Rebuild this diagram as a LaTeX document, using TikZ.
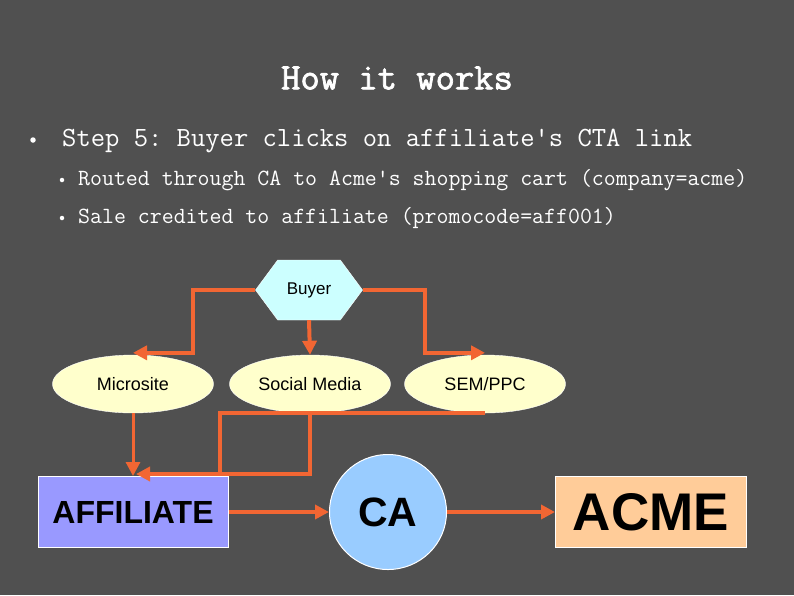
\documentclass[tikz,border=0pt]{standalone}
\usepackage{fontspec}
\setmainfont{Liberation Sans}
\setmonofont{Latin Modern Mono}[AutoFakeBold=2]
\usetikzlibrary{shapes.geometric,shapes.symbols,arrows.meta}
\definecolor{slidebg}{RGB}{80,80,80}
\definecolor{flowc}{RGB}{242,102,51}
\definecolor{buyerc}{RGB}{204,255,255}
\definecolor{ovalc}{RGB}{255,255,204}
\definecolor{affc}{RGB}{153,153,255}
\definecolor{cac}{RGB}{153,204,255}
\definecolor{acmec}{RGB}{255,204,153}
\begin{document}
\begin{tikzpicture}[x=1pt, y=-1pt,
  oval/.style = {draw=white, fill=ovalc, ellipse, minimum width=161pt, minimum height=58pt, inner sep=0pt, font=\fontsize{18}{20}\selectfont},
  box/.style = {draw=white, line width=1pt, minimum width=190pt, minimum height=71pt, inner sep=0pt, font=\bfseries},
  flow/.style = {draw=flowc, line width=4pt, -{Triangle[length=14pt, width=14pt]}},
  bul/.style = {circle, fill=white, inner sep=0pt, minimum size=5.5pt}]
\useasboundingbox[fill=slidebg] (0,0) rectangle (794,595);
% heading and bullets
\node[text=white, font=\ttfamily\bfseries\fontsize{37.5}{40}\selectfont] (title) at (397,78) {How it works};
\node[bul] (b1) at (33,140) {};
\node[bul, minimum size=4.5pt] (b2) at (62,180) {};
\node[bul, minimum size=4.5pt] (b3) at (62,218) {};
\node[anchor=west, inner sep=0pt, text=white, font=\ttfamily\fontsize{27.8}{30}\selectfont] (t1) at (62,141) {Step 5: Buyer clicks on affiliate's CTA link};
\node[anchor=west, inner sep=0pt, text=white, font=\ttfamily\fontsize{23.2}{25}\selectfont] (t2) at (78,180) {Routed through CA to Acme's shopping cart (company=acme)};
\node[anchor=west, inner sep=0pt, text=white, font=\ttfamily\fontsize{23.2}{25}\selectfont] (t3) at (78,218) {Sale credited to affiliate (promocode=aff001)};
% diagram
\node[signal, signal to=east and west, signal pointer angle=107, draw=white, fill=buyerc, minimum width=107pt, minimum height=60pt, inner sep=0pt, font=\fontsize{17}{19}\selectfont] (buyer) at (309,290) {Buyer};
\node[oval] (micro) at (133,384) {Microsite};
\node[oval] (social) at (310,384) {Social Media};
\node[oval] (sem) at (485,384) {SEM/PPC};
\node[box, fill=affc, font=\bfseries\fontsize{32}{34}\selectfont] (aff) at (133,512) {AFFILIATE};
\node[ellipse, draw=white, line width=1pt, fill=cac, minimum width=117pt, minimum height=115pt, inner sep=0pt, font=\bfseries\fontsize{41}{43}\selectfont] (ca) at (388,512) {CA};
\node[box, fill=acmec, minimum width=191pt, font=\bfseries\fontsize{53}{55}\selectfont] (acme) at (651,512) {ACME};
\coordinate (join) at (220,475);
\draw[flow] (buyer.west) -| ([xshift=60pt, yshift=2pt]micro.north) -- ([yshift=2pt]micro.north);
\draw[flow] (buyer.south) -- (social.north);
\draw[flow] (buyer.east) -| ([xshift=-60pt, yshift=2pt]sem.north) -- ([yshift=2pt]sem.north);
\draw[flow, line width=3pt] (micro.south) -- (aff.north);
\draw[flow] (social.south) |- ([xshift=3pt, yshift=2pt]aff.north);
\draw[draw=flowc, line width=4pt] (sem.south) -| (join);
\draw[flow, line width=3.5pt] (aff) -- (ca);
\draw[flow, line width=3.5pt] (ca) -- (acme);
\end{tikzpicture}
\end{document}
